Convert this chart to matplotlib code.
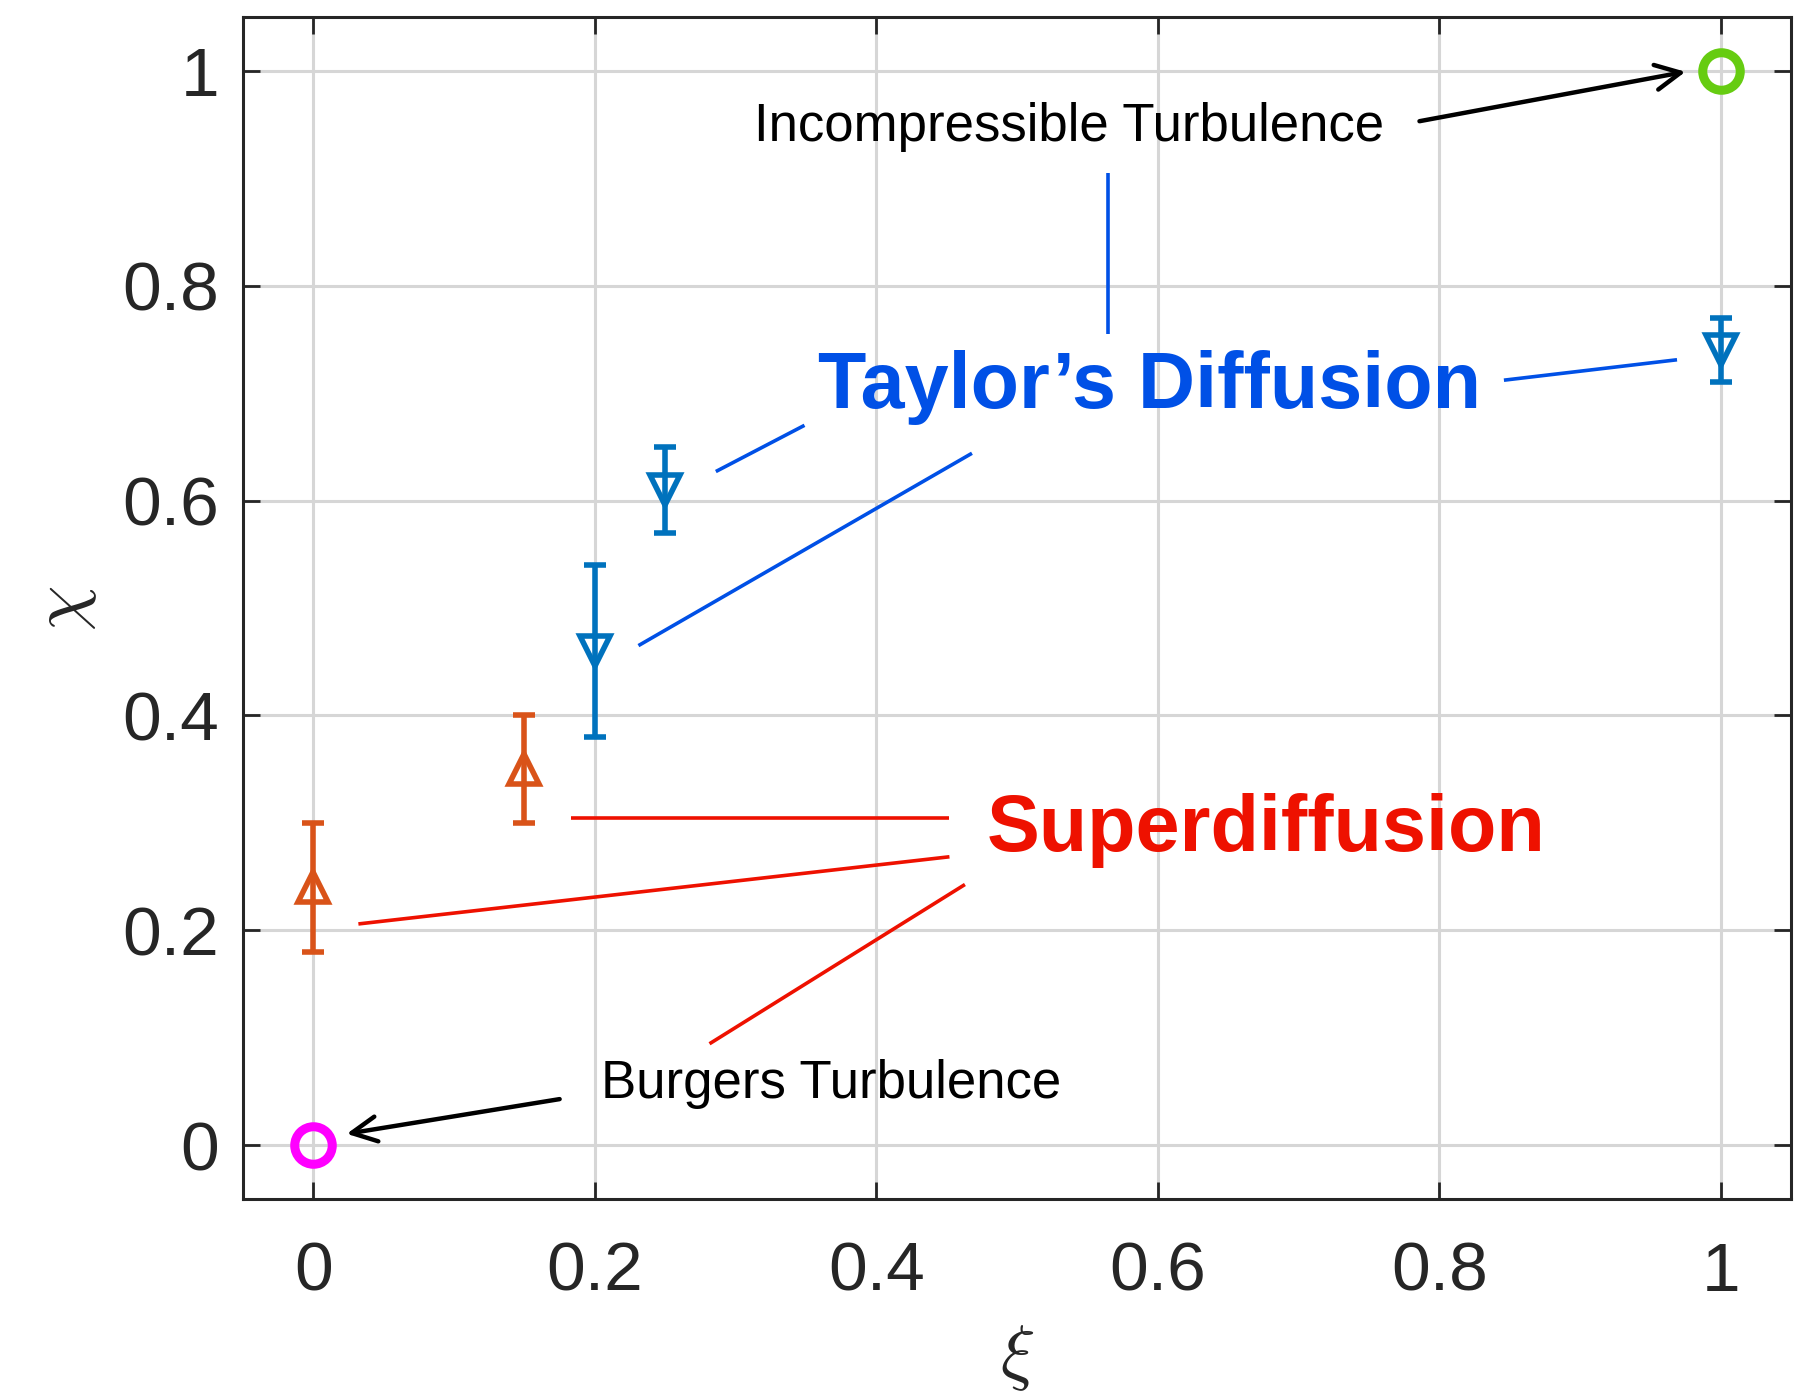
import numpy as np
import matplotlib
matplotlib.use("Agg")
import matplotlib.pyplot as plt

# regime data: xi, chi and error half-widths
xi_super = [0.0, 0.15]
chi_super = [0.24, 0.35]
err_super = [0.06, 0.05]

xi_taylor = [0.2, 0.25, 1.0]
chi_taylor = [0.46, 0.61, 0.74]
err_taylor = [0.08, 0.04, 0.03]

xi_burgers, chi_burgers = 0.0, 0.0
xi_incomp, chi_incomp = 1.0, 1.0

ticks = [0, 0.2, 0.4, 0.6, 0.8, 1]
tick_labels = ["0", "0.2", "0.4", "0.6", "0.8", "1"]

# pointer lines from the labels to the points
taylor_lines = [
    [(0.565, 0.905), (0.565, 0.755)],
    [(0.846, 0.712), (0.969, 0.731)],
    [(0.286, 0.627), (0.349, 0.670)],
    [(0.231, 0.465), (0.468, 0.644)],
]
super_lines = [
    [(0.183, 0.305), (0.452, 0.305)],
    [(0.032, 0.206), (0.452, 0.2685)],
    [(0.2815, 0.0945), (0.463, 0.2427)],
]

plt.rcParams["font.family"] = ["Liberation Sans", "DejaVu Sans"]
plt.rcParams["mathtext.fontset"] = "cm"

fig = plt.figure(figsize=(18.08, 13.91), dpi=100)
ax = fig.add_axes([0.1344, 0.138, 0.8562, 0.8498])

ax.grid(True, color="#d6d6d6", lw=2.2)
ax.set_axisbelow(True)

ax.errorbar(xi_super, chi_super, yerr=err_super, fmt="^", color="#D95319",
            mfc="none", ms=22, mew=4, lw=4, capsize=8, capthick=4, zorder=3)
ax.errorbar(xi_taylor, chi_taylor, yerr=err_taylor, fmt="v", color="#0072BD",
            mfc="none", ms=22, mew=4, lw=4, capsize=8, capthick=4, zorder=3)
ax.plot(xi_burgers, chi_burgers, "o", color="#ff00ff", mfc="none", ms=27, mew=6.5, zorder=4)
ax.plot(xi_incomp, chi_incomp, "o", color="#66cc11", mfc="none", ms=27, mew=6.5, zorder=4)

for (x0, y0), (x1, y1) in taylor_lines:
    ax.plot([x0, x1], [y0, y1], color="#0050e6", lw=2.6, solid_capstyle="butt")
for (x0, y0), (x1, y1) in super_lines:
    ax.plot([x0, x1], [y0, y1], color="#ee1100", lw=2.6, solid_capstyle="butt")

ax.text(0.594, 0.705, "Taylor\u2019s Diffusion", color="#0050e6", fontsize=57,
        fontweight="bold", ha="center", va="center")
ax.text(0.677, 0.293, "Superdiffusion", color="#ee1100", fontsize=57,
        fontweight="bold", ha="center", va="center")

ax.text(0.537, 0.948, "Incompressible Turbulence", fontsize=38,
        ha="center", va="center", color="k")
ax.text(0.368, 0.057, "Burgers Turbulence", fontsize=38,
        ha="center", va="center", color="k")

arrow_kw = dict(arrowstyle="->", color="k", lw=3.2, mutation_scale=45,
                shrinkA=0, shrinkB=0)
ax.annotate("", xy=(0.975, 0.999), xytext=(0.786, 0.953), arrowprops=arrow_kw)
ax.annotate("", xy=(0.0237, 0.0107), xytext=(0.175, 0.043), arrowprops=arrow_kw)

ax.set_xlim(-0.05, 1.05)
ax.set_ylim(-0.05, 1.05)
ax.set_xticks(ticks)
ax.set_xticklabels(tick_labels)
ax.set_yticks(ticks)
ax.set_yticklabels(tick_labels)
ax.tick_params(axis="both", direction="in", length=12, width=2, colors="#262626",
               labelsize=50, top=True, right=True)
ax.tick_params(axis="x", pad=30)
ax.tick_params(axis="y", pad=17)
for sp in ax.spines.values():
    sp.set_linewidth(2.2)
    sp.set_color("#262626")

ax.set_xlabel(r"$\xi$", fontsize=52, color="#262626")
ax.set_ylabel(r"$\chi$", fontsize=52, color="#262626")
ax.xaxis.set_label_coords(0.5, -0.105)
ax.yaxis.set_label_coords(-0.093, 0.5)

fig.savefig("out.png", dpi=100)
